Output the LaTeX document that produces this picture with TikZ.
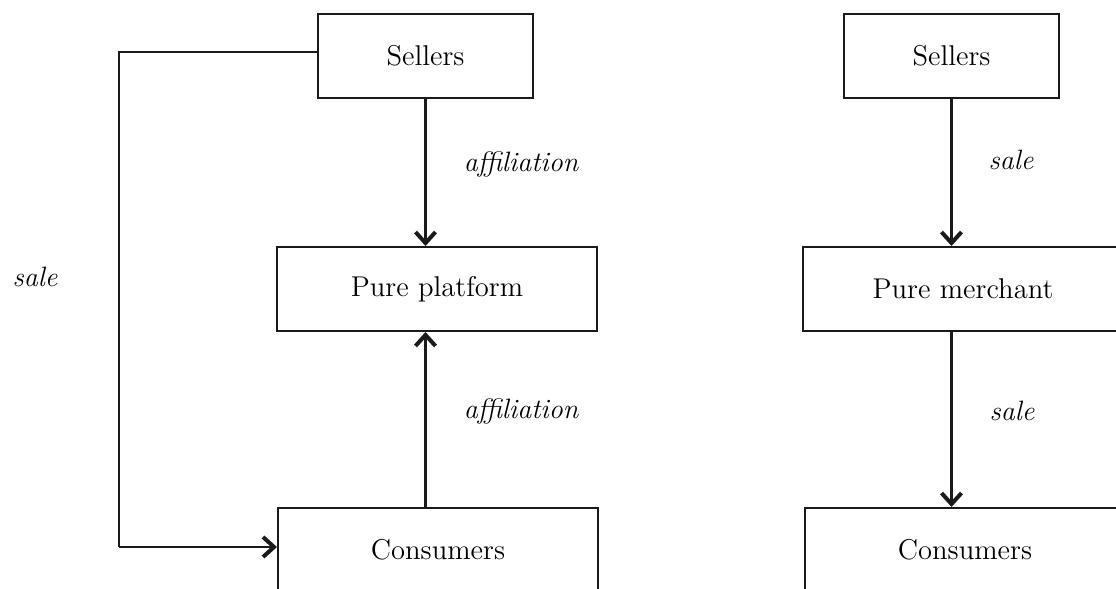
\documentclass[tikz,border=0pt]{standalone}
\usetikzlibrary{arrows.meta}
\definecolor{ink}{HTML}{1A1A1A}
\begin{document}
\begin{tikzpicture}[x=0.5pt,y=-0.5pt,
  box/.style={draw=ink,line width=1pt,inner sep=0pt,minimum height=42pt,
    font=\fontsize{14.3}{17}\selectfont,text=black},
  sbox/.style={box,minimum width=107.5pt},
  wbox/.style={box,minimum width=160pt},
  lbl/.style={font=\fontsize{14}{17}\selectfont\itshape,text=black,inner sep=0pt},
  conn/.style={draw=ink,line width=1.4pt},
  arr/.style={conn,-{Straight Barb[length=5.5pt,width=10pt,line width=2pt]}}]
\useasboundingbox (0,0) rectangle (1116,589);
\clip (0,0) rectangle (1116,589);
% left diagram
\node[sbox] (lS) at (425.5,56) {Sellers};
\node[wbox] (lP) at (437,289) {Pure platform};
\node[wbox] (lC) at (438,550) {Consumers};
\coordinate (c1) at (119,52);
\coordinate (c2) at (119,547);
\draw[conn] ([yshift=2pt]lS.west) -- (c1) -- (c2);
\draw[arr] (c2) -- (lC.west |- c2);
\draw[arr] (lS.south) -- (lS.south |- lP.north);
\draw[arr] (lS.south |- lC.north) -- (lS.south |- lP.south);
\node[lbl] (aff1) at (521,164) {affiliation};
\node[lbl] (aff2) at (521,411) {affiliation};
\node[lbl] (sale0) at (35,277) {sale};
% right diagram
\node[sbox] (rS) at (951.5,56) {Sellers};
\node[wbox] (rM) at (963,289) {Pure merchant};
\node[wbox] (rC) at (965,550) {Consumers};
\draw[arr] (rS.south) -- (rS.south |- rM.north);
\draw[arr] (rS.south |- rM.south) -- (rS.south |- rC.north);
\node[lbl] (sale1) at (1011,160) {sale};
\node[lbl] (sale2) at (1012,411) {sale};
\end{tikzpicture}
\end{document}
